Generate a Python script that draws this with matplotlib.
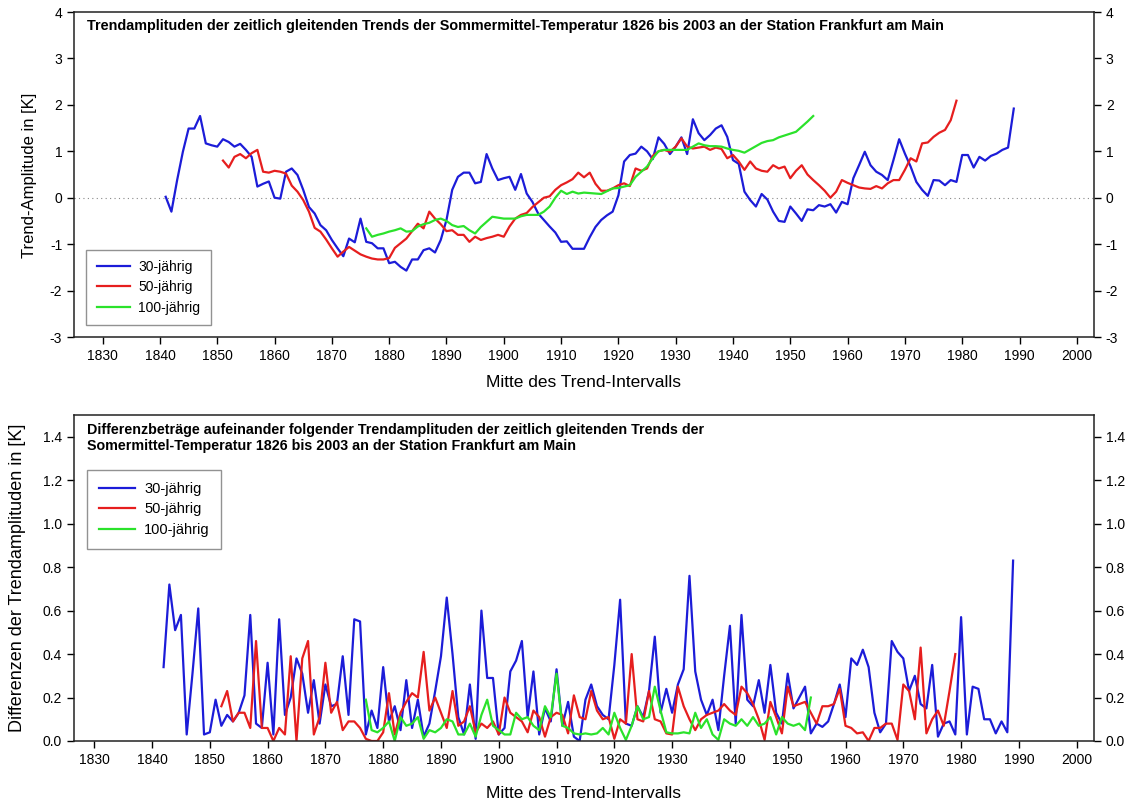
import numpy as np
import matplotlib
matplotlib.use('Agg')
import matplotlib.pyplot as plt

# --- Trendamplituden (oberes Diagramm) ---
jahre_30 = np.arange(1841, 1990)
trend_30 = [0.02, -0.30, 0.38, 0.99, 1.49, 1.49, 1.76, 1.17, 1.13,           # 1841-1849
            1.10, 1.26, 1.20, 1.10, 1.16, 1.03, 0.88, 0.24, 0.30, 0.35,       # 1850-1859
            0.00, -0.02, 0.56, 0.63, 0.49, 0.17, -0.20, -0.34, -0.59, -0.70,  # 1860
            -0.91, -1.09, -1.26, -0.88, -0.96, -0.45, -0.95, -0.98, -1.09, -1.09,  # 1870
            -1.41, -1.38, -1.49, -1.57, -1.33, -1.33, -1.13, -1.09, -1.18, -0.91,  # 1880
            -0.48, 0.17, 0.45, 0.54, 0.54, 0.31, 0.34, 0.94, 0.63, 0.38,      # 1890
            0.42, 0.45, 0.17, 0.51, 0.09, -0.09, -0.34, -0.48, -0.62, -0.75,  # 1900
            -0.95, -0.94, -1.10, -1.10, -1.10, -0.85, -0.63, -0.48, -0.38, -0.30,  # 1910
            0.05, 0.78, 0.92, 0.95, 1.10, 1.00, 0.83, 1.30, 1.16, 0.94,       # 1920
            1.10, 1.30, 0.94, 1.69, 1.39, 1.24, 1.35, 1.49, 1.56, 1.31,       # 1930
            0.81, 0.73, 0.13, -0.05, -0.19, 0.08, -0.04, -0.30, -0.50, -0.52, # 1940
            -0.19, -0.34, -0.50, -0.25, -0.27, -0.16, -0.19, -0.14, -0.32, -0.09,  # 1950
            -0.14, 0.42, 0.70, 0.99, 0.70, 0.56, 0.49, 0.38, 0.81, 1.26,      # 1960
            0.95, 0.67, 0.34, 0.17, 0.04, 0.38, 0.37, 0.27, 0.38, 0.34,       # 1970
            0.92, 0.92, 0.65, 0.88, 0.80, 0.90, 0.95, 1.03, 1.08, 1.92]       # 1980

jahre_50 = np.arange(1851, 1980)
trend_50 = [0.80, 0.65, 0.88, 0.94, 0.85, 0.96, 1.03, 0.56, 0.54,           # 1851-1859
            0.58, 0.56, 0.52, 0.26, 0.13, -0.05, -0.30, -0.65, -0.73, -0.90,  # 1860
            -1.09, -1.27, -1.16, -1.06, -1.14, -1.22, -1.27, -1.31, -1.33, -1.33,  # 1870
            -1.30, -1.08, -0.98, -0.88, -0.72, -0.56, -0.66, -0.30, -0.45, -0.57,  # 1880
            -0.72, -0.70, -0.80, -0.80, -0.95, -0.84, -0.91, -0.87, -0.84, -0.80,  # 1890
            -0.84, -0.62, -0.45, -0.37, -0.33, -0.20, -0.10, 0.00, 0.03, 0.17,     # 1900
            0.27, 0.33, 0.40, 0.54, 0.44, 0.54, 0.30, 0.15, 0.15, 0.20,       # 1910
            0.27, 0.31, 0.25, 0.63, 0.58, 0.63, 0.90, 1.00, 1.03, 0.99,       # 1920
            1.10, 1.28, 1.10, 1.06, 1.08, 1.10, 1.03, 1.08, 1.05, 0.85,       # 1930
            0.92, 0.78, 0.60, 0.78, 0.63, 0.58, 0.56, 0.70, 0.63, 0.67,       # 1940
            0.42, 0.58, 0.70, 0.50, 0.38, 0.27, 0.15, 0.00, 0.13, 0.38,       # 1950
            0.32, 0.27, 0.22, 0.20, 0.19, 0.25, 0.20, 0.31, 0.38, 0.38,       # 1960
            0.60, 0.85, 0.78, 1.17, 1.19, 1.31, 1.40, 1.46, 1.67, 2.09]       # 1970

jahre_100 = np.arange(1876, 1955)
trend_100 = [-0.66, -0.84, -0.80, -0.77,                                    # 1876-1879
             -0.73, -0.70, -0.66, -0.73, -0.72, -0.62, -0.57, -0.54, -0.48, -0.45,  # 1880
             -0.50, -0.59, -0.63, -0.61, -0.70, -0.77, -0.63, -0.52, -0.41, -0.43,  # 1890
             -0.45, -0.45, -0.45, -0.40, -0.37, -0.37, -0.37, -0.30, -0.19, 0.00,   # 1900
             0.15, 0.08, 0.13, 0.09, 0.11, 0.10, 0.09, 0.08, 0.14, 0.20,      # 1910
             0.21, 0.24, 0.27, 0.45, 0.56, 0.67, 0.85, 1.00, 1.03, 1.03,      # 1920
             1.03, 1.03, 1.03, 1.10, 1.17, 1.13, 1.11, 1.11, 1.10, 1.06,      # 1930
             1.03, 1.01, 0.97, 1.04, 1.11, 1.18, 1.22, 1.24, 1.30, 1.34,      # 1940
             1.38, 1.42, 1.53, 1.64, 1.76]                                    # 1950

# --- Differenzbetraege (unteres Diagramm) ---
djahre_30 = np.arange(1842, 1990)
diff_30 = [0.34, 0.72, 0.51, 0.58, 0.03, 0.31, 0.61, 0.03,                  # 1842-1849
           0.04, 0.19, 0.07, 0.12, 0.09, 0.13, 0.21, 0.58, 0.08, 0.06,      # 1850
           0.36, 0.03, 0.56, 0.12, 0.20, 0.38, 0.31, 0.13, 0.28, 0.08,      # 1860
           0.26, 0.16, 0.17, 0.39, 0.12, 0.56, 0.55, 0.03, 0.14, 0.06,      # 1870
           0.34, 0.09, 0.16, 0.05, 0.28, 0.06, 0.19, 0.02, 0.08, 0.23,      # 1880
           0.39, 0.66, 0.40, 0.11, 0.03, 0.26, 0.01, 0.60, 0.29, 0.29,      # 1890
           0.03, 0.06, 0.32, 0.37, 0.46, 0.11, 0.32, 0.03, 0.15, 0.09,      # 1900
           0.33, 0.07, 0.18, 0.02, 0.00, 0.19, 0.26, 0.16, 0.12, 0.10,      # 1910
           0.35, 0.65, 0.08, 0.07, 0.16, 0.11, 0.23, 0.48, 0.13, 0.24,      # 1920
           0.13, 0.26, 0.33, 0.76, 0.32, 0.19, 0.12, 0.19, 0.05, 0.30,      # 1930
           0.53, 0.08, 0.58, 0.19, 0.16, 0.28, 0.13, 0.35, 0.13, 0.08,      # 1940
           0.31, 0.15, 0.20, 0.25, 0.035, 0.08, 0.065, 0.09, 0.17, 0.26,    # 1950
           0.11, 0.38, 0.35, 0.42, 0.34, 0.13, 0.04, 0.08, 0.46, 0.41,      # 1960
           0.38, 0.23, 0.30, 0.17, 0.15, 0.35, 0.02, 0.08, 0.09, 0.03,      # 1970
           0.57, 0.03, 0.25, 0.24, 0.10, 0.10, 0.035, 0.09, 0.04, 0.83]     # 1980

djahre_50 = np.arange(1852, 1980)
diff_50 = [0.16, 0.23, 0.09, 0.13, 0.13, 0.06, 0.46, 0.06,                  # 1852-1859
           0.06, 0.00, 0.06, 0.03, 0.39, 0.00, 0.38, 0.46, 0.03, 0.11,      # 1860
           0.36, 0.13, 0.18, 0.05, 0.09, 0.09, 0.06, 0.01, 0.00, 0.00,      # 1870
           0.04, 0.22, 0.03, 0.13, 0.18, 0.22, 0.20, 0.41, 0.14, 0.20,      # 1880
           0.13, 0.06, 0.23, 0.07, 0.09, 0.16, 0.04, 0.08, 0.06, 0.09,      # 1890
           0.03, 0.20, 0.13, 0.11, 0.09, 0.04, 0.14, 0.11, 0.02, 0.11,      # 1900
           0.13, 0.12, 0.035, 0.21, 0.11, 0.10, 0.23, 0.14, 0.10, 0.11,     # 1910
           0.01, 0.10, 0.08, 0.40, 0.10, 0.09, 0.23, 0.10, 0.09, 0.035,     # 1920
           0.03, 0.25, 0.16, 0.10, 0.05, 0.10, 0.12, 0.13, 0.14, 0.17,      # 1930
           0.14, 0.12, 0.25, 0.22, 0.17, 0.10, 0.005, 0.18, 0.11, 0.035,    # 1940
           0.25, 0.16, 0.17, 0.18, 0.13, 0.08, 0.16, 0.16, 0.17, 0.24,      # 1950
           0.07, 0.06, 0.035, 0.04, 0.00, 0.06, 0.06, 0.08, 0.08, 0.005,    # 1960
           0.26, 0.23, 0.10, 0.43, 0.035, 0.10, 0.14, 0.07, 0.23, 0.40]     # 1970

djahre_100 = np.arange(1877, 1955)
diff_100 = [0.19, 0.05, 0.04,                                               # 1877-1879
            0.06, 0.09, 0.00, 0.11, 0.07, 0.08, 0.11, 0.01, 0.05, 0.04,     # 1880
            0.06, 0.10, 0.09, 0.03, 0.03, 0.08, 0.02, 0.12, 0.19, 0.07,     # 1890
            0.05, 0.03, 0.03, 0.13, 0.10, 0.11, 0.07, 0.05, 0.16, 0.11,     # 1900
            0.31, 0.07, 0.06, 0.035, 0.03, 0.035, 0.03, 0.035, 0.06, 0.03,  # 1910
            0.13, 0.06, 0.005, 0.07, 0.16, 0.10, 0.11, 0.25, 0.14, 0.04,    # 1920
            0.035, 0.035, 0.04, 0.035, 0.13, 0.06, 0.10, 0.03, 0.005, 0.10, # 1930
            0.08, 0.07, 0.10, 0.07, 0.11, 0.07, 0.08, 0.11, 0.03, 0.11,     # 1940
            0.08, 0.07, 0.08, 0.05, 0.20]                                   # 1950

labels = ['30-jährig', '50-jährig', '100-jährig']
farben = ['#1c1cd8', '#e61e1e', '#2be22b']
x_ticks = np.arange(1830, 2001, 10)

W, H = 1127, 807
narrow = ['Liberation Sans Narrow', 'Liberation Sans', 'DejaVu Sans']
plt.rcParams['font.family'] = ['Liberation Sans', 'DejaVu Sans']


def box(fig, left, top, right, bottom):
    return fig.add_axes([left / W, 1 - bottom / H, (right - left) / W, (bottom - top) / H])


def style_axis(ax, xlim, ylim, yticks, yfmt):
    ax.set_xlim(*xlim)
    ax.set_ylim(*ylim)
    ax.set_xticks(x_ticks)
    ax.set_yticks(yticks)
    ax.set_yticklabels([yfmt % v for v in yticks])
    ax.tick_params(direction='out', length=5, width=1, labelsize=10,
                   left=True, right=True, labelleft=True, labelright=True)
    for lab in ax.get_xticklabels() + ax.get_yticklabels():
        lab.set_family(narrow)
    for sp in ax.spines.values():
        sp.set_linewidth(1.1)
        sp.set_color('#222222')


fig = plt.figure(figsize=(W / 100, H / 100), dpi=100)

# oberes Diagramm
ax1 = box(fig, 74, 12, 1094, 337)
ax1.axhline(0, color='#888888', lw=0.8, ls=(0, (1, 3)))
ax1.plot(jahre_30, trend_30, color=farben[0], lw=1.6, label=labels[0])
ax1.plot(jahre_50, trend_50, color=farben[1], lw=1.6, label=labels[1])
ax1.plot(jahre_100, trend_100, color=farben[2], lw=1.6, label=labels[2])
style_axis(ax1, (1825, 2003), (-3, 4), np.arange(-3, 5, 1), '%d')
ax1.text(0.013, 0.958, 'Trendamplituden der zeitlich gleitenden Trends der Sommermittel-Temperatur 1826 bis 2003 an der Station Frankfurt am Main',
         transform=ax1.transAxes, fontsize=10.4, fontweight='bold', va='center', ha='left')
leg = ax1.legend(loc='lower left', bbox_to_anchor=(0.012, 0.037), borderaxespad=0,
                 fontsize=10, fancybox=False, edgecolor='#777777', handlelength=2.4,
                 handletextpad=0.6, labelspacing=0.45, borderpad=0.75)
leg.get_frame().set_linewidth(1.0)
fig.text(30 / W, 1 - 175 / H, 'Trend-Amplitude in [K]', rotation=90, ha='center', va='center', fontsize=12)
fig.text(584 / W, 1 - 383 / H, 'Mitte des Trend-Intervalls', ha='center', va='center', fontsize=12.5, family=narrow)

# unteres Diagramm
ax2 = box(fig, 74, 415, 1094, 741)
ax2.plot(djahre_30, diff_30, color=farben[0], lw=1.6, label=labels[0])
ax2.plot(djahre_50, diff_50, color=farben[1], lw=1.6, label=labels[1])
ax2.plot(djahre_100, diff_100, color=farben[2], lw=1.6, label=labels[2])
style_axis(ax2, (1826.5, 2003), (0, 1.5), np.arange(0, 1.41, 0.2), '%.1f')
ax2.text(0.013, 0.975, 'Differenzbeträge aufeinander folgender Trendamplituden der zeitlich gleitenden Trends der\nSomermittel-Temperatur 1826 bis 2003 an der Station Frankfurt am Main',
         transform=ax2.transAxes, fontsize=10.3, fontweight='bold', va='top', ha='left', linespacing=1.15)
leg2 = ax2.legend(loc='upper left', bbox_to_anchor=(0.013, 0.831), borderaxespad=0,
                  fontsize=10.5, fancybox=False, edgecolor='#777777', handlelength=2.5,
                  handletextpad=0.6, labelspacing=0.45, borderpad=0.8)
leg2.get_frame().set_linewidth(1.0)
fig.text(18 / W, 1 - 578 / H, 'Differenzen der Trendamplituden in [K]', rotation=90, ha='center', va='center', fontsize=13)
fig.text(584 / W, 1 - 793 / H, 'Mitte des Trend-Intervalls', ha='center', va='center', fontsize=12.5, family=narrow)

fig.savefig('out.png', dpi=100)
